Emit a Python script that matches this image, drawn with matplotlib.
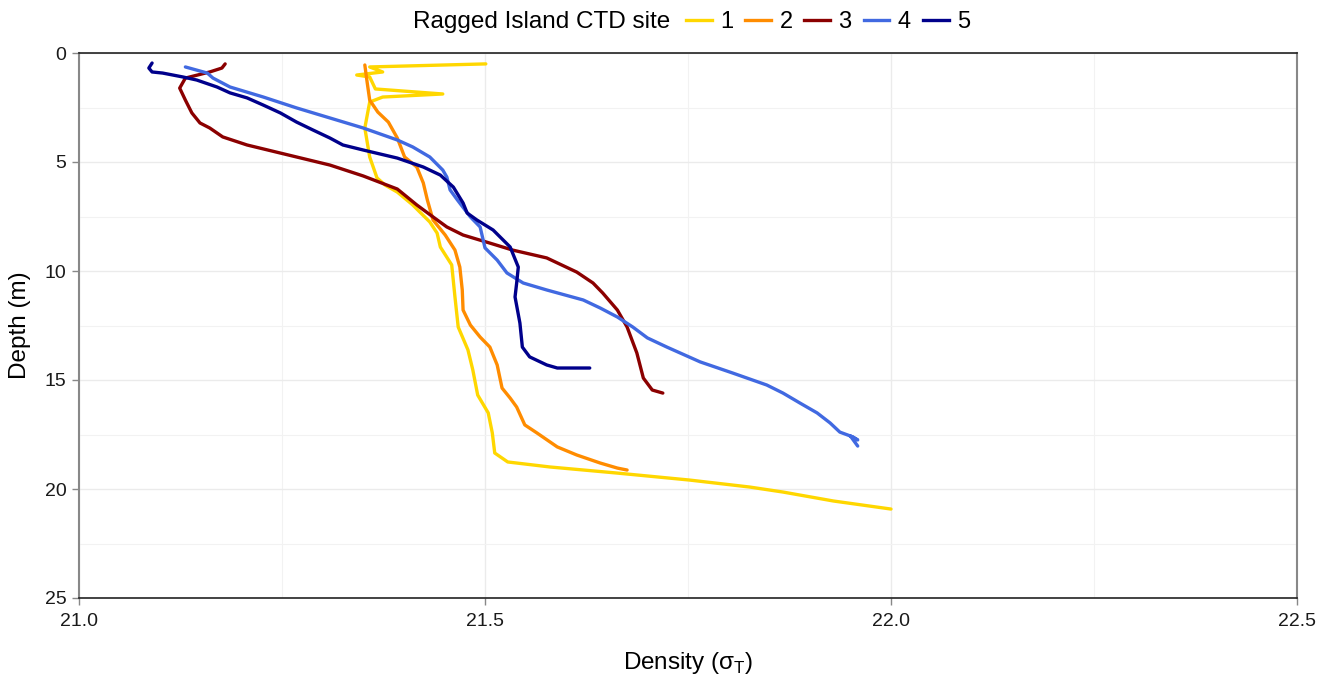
import matplotlib
matplotlib.use("Agg")
import matplotlib.pyplot as plt
from matplotlib.lines import Line2D
from matplotlib.ticker import MultipleLocator

plt.rcParams['font.family'] = ['Liberation Sans', 'DejaVu Sans']
plt.rcParams['mathtext.fontset'] = 'custom'
plt.rcParams['mathtext.rm'] = 'Liberation Sans'

# site 1
dens_1 = [21.501, 21.358, 21.374, 21.342, 21.358, 21.365, 21.448, 21.374, 21.358, 21.352,
          21.358, 21.367, 21.377, 21.392, 21.411, 21.432, 21.441, 21.445, 21.459, 21.463,
          21.467, 21.479, 21.485, 21.491, 21.504, 21.509, 21.512, 21.528, 21.580, 21.663,
          21.752, 21.826, 21.867, 21.929, 22.000]
depth_1 = [0.50, 0.64, 0.87, 1.01, 1.10, 1.65, 1.88, 2.02, 2.25, 3.44,
           4.77, 5.73, 6.06, 6.38, 6.97, 7.75, 8.26, 8.90, 9.72, 11.19,
           12.57, 13.62, 14.54, 15.69, 16.51, 17.43, 18.35, 18.76, 18.99, 19.27,
           19.59, 19.91, 20.14, 20.55, 20.92]

# site 2
dens_2 = [21.352, 21.355, 21.358, 21.368, 21.381, 21.392, 21.401, 21.416, 21.424, 21.429,
          21.436, 21.451, 21.463, 21.469, 21.472, 21.473, 21.482, 21.494, 21.506, 21.515,
          21.521, 21.531, 21.539, 21.549, 21.564, 21.589, 21.613, 21.642, 21.663, 21.675]
depth_2 = [0.55, 1.38, 2.16, 2.71, 3.17, 3.90, 4.77, 5.23, 5.96, 6.74,
           7.66, 8.35, 9.04, 9.82, 10.87, 11.79, 12.48, 13.03, 13.49, 14.31,
           15.37, 15.83, 16.24, 17.06, 17.43, 18.07, 18.44, 18.81, 19.04, 19.13]

# site 3
dens_3 = [21.180, 21.176, 21.161, 21.131, 21.124, 21.131, 21.139, 21.149, 21.161, 21.177,
          21.207, 21.248, 21.309, 21.350, 21.392, 21.416, 21.436, 21.453, 21.473, 21.506,
          21.534, 21.576, 21.613, 21.633, 21.645, 21.663, 21.675, 21.687, 21.695, 21.706,
          21.719]
depth_3 = [0.50, 0.69, 0.87, 1.15, 1.61, 2.16, 2.75, 3.21, 3.44, 3.85,
           4.22, 4.59, 5.14, 5.64, 6.24, 6.97, 7.52, 7.98, 8.35, 8.72,
           9.04, 9.40, 10.05, 10.55, 11.01, 11.79, 12.57, 13.76, 14.91, 15.46,
           15.60]

# site 4
dens_4 = [21.131, 21.158, 21.165, 21.186, 21.227, 21.268, 21.309, 21.350, 21.392, 21.411,
          21.432, 21.448, 21.453, 21.457, 21.466, 21.482, 21.494, 21.500, 21.515, 21.527,
          21.547, 21.576, 21.621, 21.642, 21.663, 21.682, 21.700, 21.724, 21.765, 21.805,
          21.847, 21.867, 21.888, 21.909, 21.925, 21.937, 21.953, 21.959, 21.950, 21.959]
depth_4 = [0.64, 0.92, 1.15, 1.56, 2.02, 2.52, 2.98, 3.44, 3.99, 4.31,
           4.77, 5.37, 5.69, 6.28, 6.74, 7.52, 7.98, 8.94, 9.50, 10.09,
           10.55, 10.87, 11.33, 11.70, 12.11, 12.57, 13.07, 13.49, 14.17, 14.68,
           15.23, 15.60, 16.06, 16.51, 16.97, 17.39, 17.61, 17.75, 17.57, 18.03]

# site 5
dens_5 = [21.090, 21.086, 21.090, 21.103, 21.128, 21.145, 21.170, 21.186, 21.207, 21.227,
          21.248, 21.268, 21.288, 21.309, 21.325, 21.350, 21.392, 21.424, 21.445, 21.461,
          21.473, 21.478, 21.490, 21.510, 21.531, 21.541, 21.539, 21.537, 21.543, 21.546,
          21.555, 21.576, 21.589, 21.629]
depth_5 = [0.46, 0.69, 0.87, 0.92, 1.10, 1.24, 1.56, 1.83, 2.06, 2.39,
           2.75, 3.17, 3.53, 3.90, 4.22, 4.45, 4.82, 5.23, 5.60, 6.15,
           6.88, 7.34, 7.66, 8.12, 8.90, 9.82, 10.55, 11.19, 12.39, 13.49,
           13.94, 14.31, 14.45, 14.45]

sites = ['1', '2', '3', '4', '5']
colors = ['#FFD700', '#FF8C00', '#8B0000', '#4169E1', '#00008B']
dens = [dens_1, dens_2, dens_3, dens_4, dens_5]
depths = [depth_1, depth_2, depth_3, depth_4, depth_5]

fig = plt.figure(figsize=(13.31, 6.79), dpi=100)
ax = fig.add_axes([79 / 1331, 81 / 679, 1218 / 1331, 545 / 679])

for d, z, c in zip(dens, depths, colors):
    ax.plot(d, z, color=c, linewidth=2.4, solid_joinstyle='round', solid_capstyle='round')

ax.set_xlim(21.0, 22.5)
ax.set_ylim(25, 0)
ax.xaxis.set_major_locator(MultipleLocator(0.5))
ax.xaxis.set_minor_locator(MultipleLocator(0.25))
ax.yaxis.set_major_locator(MultipleLocator(5))
ax.yaxis.set_minor_locator(MultipleLocator(2.5))
ax.set_xticks([21.0, 21.5, 22.0, 22.5])
ax.set_xticklabels(['21.0', '21.5', '22.0', '22.5'])

ax.grid(True, which='major', color='#EBEBEB', linewidth=1.0)
ax.grid(True, which='minor', color='#F2F2F2', linewidth=0.8)
ax.set_axisbelow(True)

ax.tick_params(which='major', length=5, width=1, color='#888888', labelsize=14,
               labelcolor='#1a1a1a', pad=4)
ax.tick_params(axis='x', which='major', pad=6)
ax.tick_params(which='minor', length=0)

for s in ['top', 'bottom']:
    ax.spines[s].set_color('#222222')
    ax.spines[s].set_linewidth(1.2)
for s in ['left', 'right']:
    ax.spines[s].set_color('#888888')
    ax.spines[s].set_linewidth(1.5)

ax.set_xlabel(r'Density (σ$_\mathrm{T}$)', fontsize=17.5, labelpad=14)
ax.set_ylabel('Depth (m)', fontsize=17.5, labelpad=10)

fig.text(413 / 1331, 1 - 22 / 679, 'Ragged Island CTD site', fontsize=17.5,
         ha='left', va='center')
handles = [Line2D([0], [0], color=c, linewidth=2.4) for c in colors]
fig.legend(handles, sites, loc='center left', bbox_to_anchor=(686 / 1331, 1 - 22 / 679),
           ncol=5, frameon=False, fontsize=17, handlelength=1.1, handletextpad=0.35,
           columnspacing=0.5, borderaxespad=0, borderpad=0)

fig.savefig('out.png', dpi=100)
